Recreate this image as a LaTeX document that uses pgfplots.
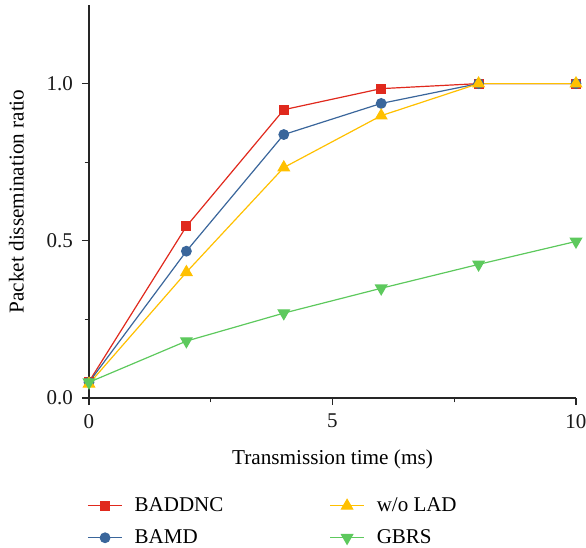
\documentclass[border=0pt]{standalone}
\usepackage{fontspec}
\setmainfont{Liberation Serif}
\usepackage{pgfplots}
\pgfplotsset{compat=1.18}
\definecolor{cred}{HTML}{E0291D}
\definecolor{cblue}{HTML}{3A669B}
\definecolor{cyellow}{HTML}{FFC000}
\definecolor{cgreen}{HTML}{5DC95D}
\definecolor{caxis}{HTML}{262626}
\begin{document}
\begin{tikzpicture}
\begin{axis}[
  at={(0,0)}, anchor=south west, scale only axis,
  width=243.5pt, height=196.5pt,
  xmin=0, xmax=10, ymin=0, ymax=1.25,
  axis lines=left,
  axis line style={-, line width=0.65pt, color=caxis},
  xtick={0,5,10}, ytick={0,0.5,1},
  minor xtick={2.5,7.5}, minor ytick={0.25,0.75},
  tick align=outside, major tick length=3.5pt, minor tick length=2.2pt,
  every tick/.style={line width=0.6pt, color=caxis},
  /pgf/number format/assume math mode=true,
  yticklabel={\pgfmathprintnumber[fixed,fixed zerofill,precision=1]{\tick}},
  tick label style={font=\fontsize{10.5}{12}\selectfont, color=black!90},
  xticklabel style={yshift=-1pt},
  yticklabel style={xshift=-1pt},
  xlabel={Transmission time (ms)},
  ylabel={Packet dissemination ratio},
  label style={font=\fontsize{10.6}{12}\selectfont},
  xlabel style={yshift=-4pt},
  ylabel style={yshift=4.5pt},
  legend columns=2,
  legend cell align=left,
  legend style={at={(0,0)}, anchor=north west, xshift=-1pt, yshift=-47.5pt,
    draw=none, fill=none, inner sep=0pt, row sep=3.5pt,
    font=\fontsize{10.5}{12}\selectfont,
    /tikz/every odd column/.append style={column sep=4pt},
    /tikz/every even column/.append style={column sep=51pt}},
]
\addlegendimage{cred, line width=0.6pt, mark=square*, mark size=2.2pt}
\addlegendimage{cyellow, line width=0.6pt, mark=triangle*, mark size=3.2pt}
\addlegendimage{cblue, line width=0.6pt, mark=*, mark size=2.4pt}
\addlegendimage{cgreen, line width=0.6pt, mark=triangle*, mark size=3.2pt, mark options={rotate=180}}
\legend{BADDNC, w/o LAD, BAMD, GBRS}

\addplot[forget plot, cred, line width=0.6pt, mark=square*, mark size=2.2pt] coordinates {
  (0,0.052) (2,0.546) (4,0.917) (6,0.984) (8,1.0) (10,1.0)};
\addplot[forget plot, cblue, line width=0.6pt, mark=*, mark size=2.4pt] coordinates {
  (0,0.050) (2,0.467) (4,0.838) (6,0.937) (8,1.0) (10,1.0)};
\addplot[forget plot, cyellow, line width=0.6pt, mark=triangle*, mark size=3.2pt] coordinates {
  (0,0.045) (2,0.400) (4,0.733) (6,0.898) (8,1.0) (10,1.0)};
\addplot[forget plot, cgreen, line width=0.6pt, mark=triangle*, mark size=3.2pt, mark options={rotate=180}] coordinates {
  (0,0.050) (2,0.181) (4,0.270) (6,0.349) (8,0.425) (10,0.498)};
\end{axis}
\pgfresetboundingbox
\path[use as bounding box] (-44.5pt,-75pt) rectangle (248.5pt,199pt);
\end{tikzpicture}
\end{document}
